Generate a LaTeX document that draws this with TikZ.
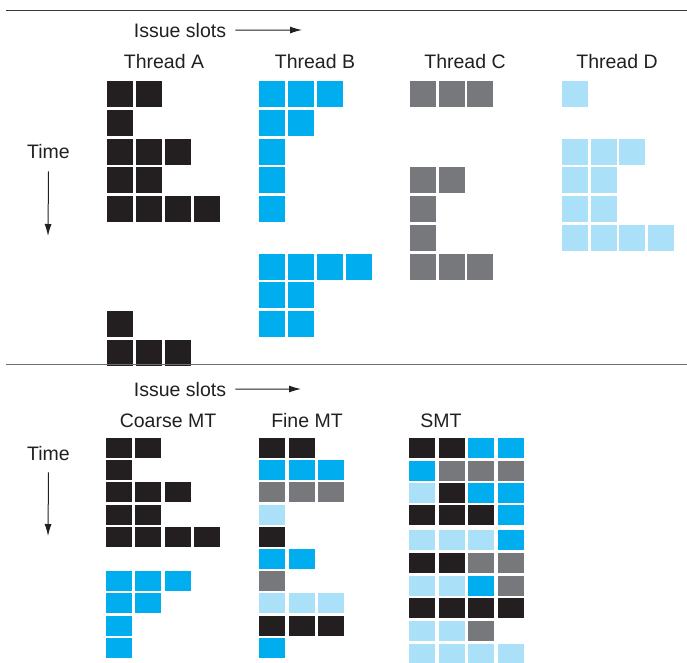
\documentclass[tikz,border=0pt]{standalone}
\usepackage{fontspec}
\setmainfont{Liberation Sans}
\usepackage{tikz}
\usetikzlibrary{arrows.meta, positioning}
\definecolor{colA}{HTML}{231F20}
\definecolor{colB}{HTML}{00AEEF}
\definecolor{colC}{HTML}{77787B}
\definecolor{colD}{HTML}{ABE0F9}
\definecolor{ruleTop}{HTML}{3C3C3E}
\definecolor{ruleMid}{HTML}{6D6E71}

\begin{document}
\begin{tikzpicture}[x=1pt, y=-1pt,
  lbl/.style={font=\fontsize{19.5}{22}\selectfont, text=colA, inner sep=0pt, anchor=base},
  arr/.style={draw=colA, line width=1pt, -{Latex[length=12pt, width=7pt]}}]
\useasboundingbox (0,0) rectangle (687,662);
% Rules
\draw[ruleTop, line width=1.5pt] (6,10.5) -- (687,10.5);
% ---------------- Top: one thread each ----------------
\node[lbl] (slotsTop) at (180,37) {Issue slots};
\coordinate (slotsTopEnd) at (302,30);
\draw[arr] ([xshift=9pt]slotsTop.east) -- (slotsTopEnd);
\node[lbl] (timeTop) at (48.5,158) {Time};
\coordinate (timeTopEnd) at (48,236);
\draw[arr] ([yshift=-13pt]timeTop.south) -- (timeTopEnd);
\node[lbl] (labA) at (164,68) {Thread A};
\node[lbl] (labB) at (315,68) {Thread B};
\node[lbl] (labC) at (465,68) {Thread C};
\node[lbl] (labD) at (617,68) {Thread D};
% Thread A
\foreach \r/\n in {0/2,1/1,2/3,3/2,4/4,8/1,9/3}
  \foreach \c in {1,...,\n}
    \fill[colA] ({107+29*(\c-1)},{81+28.75*\r}) rectangle ++(26,26);
% Thread B
\foreach \r/\n in {0/3,1/2,2/1,3/1,4/1,6/4,7/2,8/2}
  \foreach \c in {1,...,\n}
    \fill[colB] ({259+29*(\c-1)},{81+28.75*\r}) rectangle ++(26,26);
% Thread C
\foreach \r/\n in {0/3,3/2,4/1,5/1,6/3}
  \foreach \c in {1,...,\n}
    \fill[colC] ({410+28.5*(\c-1)},{81+28.75*\r}) rectangle ++(26,26);
% Thread D
\foreach \r/\n in {0/1,2/3,3/2,4/2,5/4}
  \foreach \c in {1,...,\n}
    \fill[colD] ({562+28.7*(\c-1)},{81+28.75*\r}) rectangle ++(26,26);
\draw[ruleMid, line width=1.8pt] (6,364.5) -- (687,364.5);
% ---------------- Bottom: multithreading ----------------
\node[lbl] (slotsBot) at (180,396) {Issue slots};
\coordinate (slotsBotEnd) at (301,389);
\draw[arr] ([xshift=9pt]slotsBot.east) -- (slotsBotEnd);
\node[lbl] (timeBot) at (48.5,460) {Time};
\coordinate (timeBotEnd) at (48,536);
\draw[arr] ([yshift=-12pt]timeBot.south) -- (timeBotEnd);
\node[lbl] (labCoarse) at (168,427) {Coarse MT};
\node[lbl] (labFine) at (307,427) {Fine MT};
\node[lbl] (labSMT) at (441,427) {SMT};
% Coarse MT
\foreach \r/\n/\col in {0/2/colA,1/1/colA,2/3/colA,3/2/colA,4/4/colA,
                        6/3/colB,7/2/colB,8/1/colB,9/1/colB}
  \foreach \c in {1,...,\n}
    \fill[\col] ({106+29.3*(\c-1)},{438+22.2*\r}) rectangle ++(26,20);
% Fine MT
\foreach \r/\n/\col in {0/2/colA,1/3/colB,2/3/colC,3/1/colD,4/1/colA,
                        5/2/colB,6/1/colC,7/3/colD,8/3/colA,9/1/colB}
  \foreach \c in {1,...,\n}
    \fill[\col] ({259+29.5*(\c-1)},{438+22.2*\r}) rectangle ++(26,20);
% SMT
\foreach \yy/\row in {438/{colA,colA,colB,colB}, 461/{colB,colC,colC,colC},
                      483/{colD,colA,colB,colB}, 505/{colA,colA,colA,colB},
                      530/{colD,colD,colD,colB}, 553/{colA,colA,colC,colC},
                      576/{colD,colD,colB,colC}, 598/{colA,colA,colA,colA},
                      621/{colD,colD,colC,none}, 644/{colD,colD,colD,colD}}
  \foreach \col [count=\c from 0] in \row
    \path[fill=\col] ({409+29.6*\c},\yy) rectangle ++(26,20);
\end{tikzpicture}
\end{document}
